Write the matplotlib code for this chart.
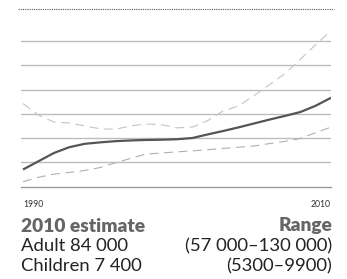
import matplotlib
matplotlib.use("Agg")
import matplotlib.pyplot as plt
from matplotlib.lines import Line2D

years = list(range(1990, 2011))
estimate = [0.70, 1.04, 1.38, 1.62, 1.76, 1.82, 1.87, 1.90, 1.92, 1.93, 1.95,
            2.00, 2.15, 2.29, 2.44, 2.60, 2.76, 2.91, 3.07, 3.33, 3.66]
upper = [3.42, 2.95, 2.66, 2.62, 2.50, 2.38, 2.36, 2.50, 2.58, 2.55, 2.42,
         2.45, 2.72, 3.12, 3.32, 3.75, 4.20, 4.65, 5.24, 5.85, 6.42]
lower = [0.20, 0.38, 0.51, 0.58, 0.66, 0.78, 0.98, 1.16, 1.34, 1.38, 1.43,
         1.47, 1.52, 1.57, 1.62, 1.67, 1.77, 1.86, 1.98, 2.22, 2.45]
grid_levels = [1, 2, 3, 4, 5, 6]
tick_years = [1990, 2010]
tick_labels = ["1990", "2010"]

plt.rcParams['font.family'] = ['Lato', 'DejaVu Sans']

W, H = 347, 279
fig = plt.figure(figsize=(W / 100, H / 100), dpi=100)

ax_left, ax_right, ax_bottom, ax_top = 21, 331, 186.5, 26.5
ax = fig.add_axes([ax_left / W, 1 - ax_bottom / H,
                   (ax_right - ax_left) / W, (ax_bottom - ax_top) / H])
ax.set_xlim(1989.87, 2010)
ax.set_ylim(0, 6.6)

for g in grid_levels:
    ax.axhline(g, color='#bdbdbd', lw=1.0, zorder=1)

ax.plot(years, upper, color='#c4c4c4', lw=0.8, dashes=(8, 5), zorder=2)
ax.plot(years, lower, color='#b0b0b0', lw=0.8, dashes=(8, 5), zorder=2)
ax.plot(years, estimate, color='#555555', lw=1.6, zorder=3,
        solid_capstyle='butt', solid_joinstyle='round')

for s in ['top', 'right', 'left']:
    ax.spines[s].set_visible(False)
ax.spines['bottom'].set_color('#9a9a9a')
ax.spines['bottom'].set_linewidth(1.0)
ax.set_yticks([])
ax.set_xticks(tick_years)
ax.set_xticklabels(tick_labels, fontsize=6.2, color='#333333')
ax.tick_params(axis='x', length=0, pad=10)
labs = ax.get_xticklabels()
labs[0].set_horizontalalignment('left')
labs[-1].set_horizontalalignment('right')

# dotted top rule
fig.add_artist(Line2D([18 / W, 334 / W], [1 - 9 / H, 1 - 9 / H],
                      color='#555555', lw=0.8, linestyle=(0, (1, 1))))

fs = 13.3
fsb = 13.8
baselines = [231.5, 251, 271]
fig.text(21 / W, 1 - baselines[0] / H, "2010 estimate", fontsize=fsb, fontweight='heavy',
         color='#666666', ha='left', va='baseline')
fig.text(332 / W, 1 - baselines[0] / H, "Range", fontsize=fsb, fontweight='heavy',
         color='#666666', ha='right', va='baseline')
fig.text(21 / W, 1 - baselines[1] / H, "Adult 84 000", fontsize=fs,
         color='#222222', ha='left', va='baseline')
fig.text(332 / W, 1 - baselines[1] / H, "(57 000\u2013130 000)", fontsize=fs,
         color='#222222', ha='right', va='baseline')
fig.text(21 / W, 1 - baselines[2] / H, "Children 7 400", fontsize=fs,
         color='#222222', ha='left', va='baseline')
fig.text(332 / W, 1 - baselines[2] / H, "(5300\u20139900)", fontsize=fs,
         color='#222222', ha='right', va='baseline')

fig.savefig("out.png", dpi=100)
